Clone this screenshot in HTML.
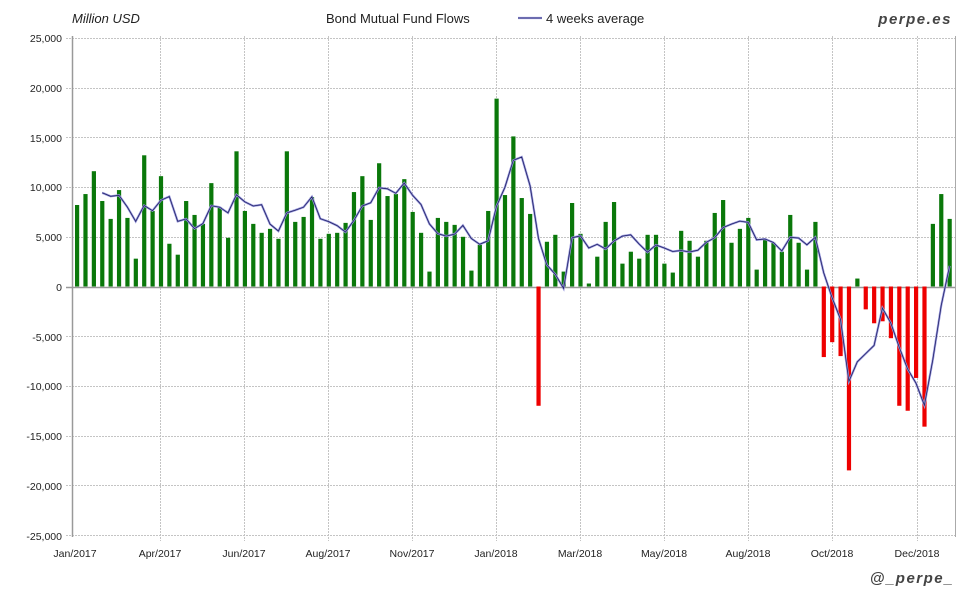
<!DOCTYPE html>
<html><head><meta charset="utf-8"><style>
body{margin:0;background:#fff}
svg{display:block;font-family:"Liberation Sans",sans-serif}
</style></head><body>
<svg id="s" width="980" height="600" xmlns="http://www.w3.org/2000/svg">
<rect width="980" height="600" fill="#fff"/>
<g id="grid"></g>
<g id="bars"></g>
<g id="line"></g>
<line x1="72.5" y1="36" x2="72.5" y2="537" stroke="#999" stroke-width="1.5"/>
<line x1="955.5" y1="36" x2="955.5" y2="537" stroke="#aaa" stroke-width="1"/>
<g font-size="10.5" fill="#222" text-anchor="end">
<text x="62" y="42">25,000</text><text x="62" y="92">20,000</text><text x="62" y="142">15,000</text>
<text x="62" y="191">10,000</text><text x="62" y="241">5,000</text><text x="62" y="291">0</text>
<text x="62" y="341">-5,000</text><text x="62" y="390">-10,000</text><text x="62" y="440">-15,000</text>
<text x="62" y="490">-20,000</text><text x="62" y="540">-25,000</text>
</g>
<g font-size="10.5" fill="#222" text-anchor="middle">
<text x="75" y="557">Jan/2017</text><text x="160" y="557">Apr/2017</text><text x="244" y="557">Jun/2017</text>
<text x="328" y="557">Aug/2017</text><text x="412" y="557">Nov/2017</text><text x="496" y="557">Jan/2018</text>
<text x="580" y="557">Mar/2018</text><text x="664" y="557">May/2018</text><text x="748" y="557">Aug/2018</text>
<text x="832" y="557">Oct/2018</text><text x="917" y="557">Dec/2018</text>
</g>
<text x="72" y="23" font-size="13" font-style="italic" fill="#222">Million USD</text>
<text x="326" y="23" font-size="13" fill="#222">Bond Mutual Fund Flows</text>
<line x1="518" y1="18" x2="542" y2="18" stroke="#9999dd" stroke-width="2.2"/>
<line x1="518" y1="18" x2="542" y2="18" stroke="#222266" stroke-width="0.8"/>
<text x="546" y="23" font-size="13" fill="#222">4 weeks average</text>
<text x="952" y="24" font-size="15" font-weight="bold" font-style="italic" fill="#444" text-anchor="end" letter-spacing="1.5">perpe.es</text>
<text x="954" y="583" font-size="15" font-weight="bold" font-style="italic" fill="#444" text-anchor="end" letter-spacing="1.5">@_perpe_</text>
</svg>
<script>
var v=[8200,9300,11600,8600,6800,9700,6900,2800,13200,7600,11100,4300,3200,8600,7200,6300,10400,8000,4900,13600,7600,6300,5400,5800,4800,13600,6500,7000,9000,4800,5300,5400,6400,9500,11100,6700,12400,9100,9300,10800,7500,5400,1500,6900,6500,6200,5000,1600,4200,7600,18900,9200,15100,8900,7300,-12000,4500,5200,1500,8400,5300,300,3000,6500,8500,2300,3500,2800,5200,5200,2300,1400,5600,4600,3000,4600,7400,8700,4400,5800,6900,1700,4700,4400,3500,7200,4400,1700,6500,-7100,-5600,-7000,-18500,800,-2300,-3700,-3500,-5200,-12000,-12500,-9200,-14100,6300,9300,6800];
var NS="http://www.w3.org/2000/svg";
function Y(x){return 286.5-x/5000*49.7;}
function X(i){return 77+i*8.39;}
function el(p,t,a){var e=document.createElementNS(NS,t);for(var k in a)e.setAttribute(k,a[k]);document.getElementById(p).appendChild(e);}
for(var g=-25000;g<=25000;g+=5000){var y=Math.round(Y(g))+0.5;el('grid','line',{x1:66,x2:955,y1:y,y2:y,stroke:g==0?'#999':'#c4c4c4','stroke-width':g==0?1.5:1,'stroke-dasharray':g==0?'':'2,1'});}
[160,244,328,412,496,580,664,748,832,917].forEach(function(x){el('grid','line',{x1:x+.5,x2:x+.5,y1:36,y2:541,stroke:'#c4c4c4','stroke-dasharray':'2,1'});});
v.forEach(function(d,i){var y0=Y(0),y1=Y(d);el('bars','rect',{x:X(i)-2,y:Math.min(y0,y1),width:4.2,height:Math.abs(y1-y0),fill:d<0?'#ee0000':'#0a780a'});});
var pts=[];for(var i=3;i<v.length;i++){var a=(v[i]+v[i-1]+v[i-2]+v[i-3])/4;pts.push(X(i).toFixed(1)+','+Y(a).toFixed(1));}
el('line','polyline',{points:pts.join(' '),fill:'none',stroke:'#9999dd','stroke-width':2.2});
el('line','polyline',{points:pts.join(' '),fill:'none',stroke:'#222266','stroke-width':0.8});
</script>
</body></html>
